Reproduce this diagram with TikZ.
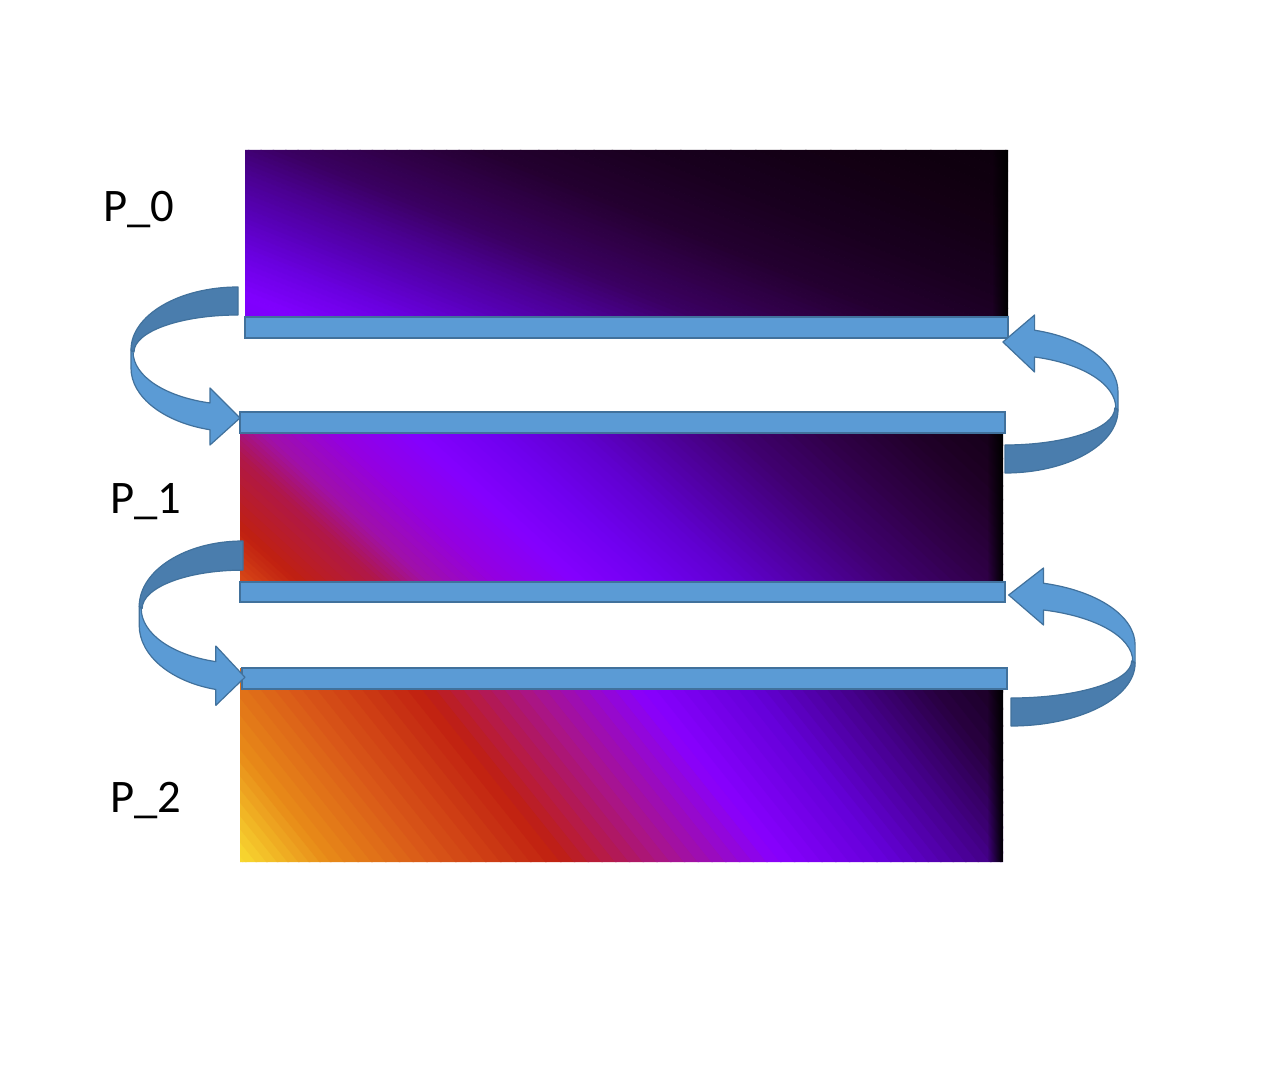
\documentclass[tikz,border=0pt]{standalone}
\usepackage{fontspec}
\setmainfont{Carlito}
\usetikzlibrary{fadings}
\definecolor{halofill}{HTML}{5B9BD5}
\definecolor{haloline}{HTML}{41719C}
\definecolor{haloback}{HTML}{4A7DAD}

% #1 left, #2 bottom, #3 right, #4 top, #5 slope of the iso-lines, #6 stops t0/t1/c0/c1
\newcommand{\heatpanel}[6]{%
  \begin{scope}
    \clip (#1,#4) rectangle (#3,#2);
    \foreach \ta/\tb/\ca/\cb in {#6}{
      \xdefinecolor{hlo}{HTML}{\ca}\xdefinecolor{hhi}{HTML}{\cb}
      \foreach \i in {0,...,7}{
        \pgfmathsetmacro{\tA}{\ta+(\tb-\ta)*\i/8}
        \pgfmathsetmacro{\tB}{\ta+(\tb-\ta)*(\i+1)/8+1.5}
        \pgfmathsetmacro{\skw}{#5*(#2-#4)}
        \pgfmathsetmacro{\pct}{(\i+0.5)*12.5}
        \fill[hhi!\pct!hlo] (\tA,#2) -- (\tB,#2) -- (\tB-\skw,#4) -- (\tA-\skw,#4) -- cycle;
      }
    }
    \fill[black, path fading=west] (#3-16,#4) rectangle (#3,#2);
  \end{scope}}

\begin{document}
\begin{tikzpicture}[x=0.75pt, y=-0.75pt,
  lbl/.style={font=\fontsize{35}{40}\selectfont, anchor=base west, inner sep=0pt},
  halo/.style={fill=halofill, draw=haloline, line width=0.9pt},
  backpart/.style={fill=haloback, draw=haloline, line width=0.9pt, line join=round},
  frontpart/.style={fill=halofill, draw=haloline, line width=0.9pt, line join=round},
  curlarrow/.pic={
    \path[backpart] (0,0) arc[start angle=270, end angle=180, x radius=107, y radius=63]
      -- (-104,65) arc[start angle=180, end angle=270, x radius=104, y radius=37] -- cycle;
    \path[frontpart] (-107,63) -- (-107,81)
      arc[start angle=180, end angle=105.2, x radius=107, y radius=64]
      -- (-28,158) -- (2,131) -- (-28,101) -- (-28,116)
      arc[start angle=105.5, end angle=180, x radius=105, y radius=53] -- cycle;
  }]
\useasboundingbox[fill=white] (0,0) rectangle (1287,1069);

% ---------------- heat maps ----------------
\heatpanel{245}{338}{1008}{150}{2.5}{240/350/7C00F4/8000FF, 350/458/8000FF/6A00E0,
  458/557/6A00E0/5800B8, 557/656/5800B8/4A0090, 656/755/4A0090/3A0060,
  755/854/3A0060/300048, 854/953/300048/240030, 953/1100/240030/1A0020,
  1100/1300/1A0020/120012, 1300/1500/120012/0C000C}
\heatpanel{240}{602}{1003}{412}{1.1}{220/265/D84818/D84818, 265/320/D84818/C02010,
  320/400/C02010/B01848, 400/450/B01848/A010A8, 450/520/A010A8/9400E0,
  520/600/9400E0/8400FF, 600/680/8400FF/7000F0, 680/760/7000F0/6000D0,
  760/840/6000D0/5000A0, 840/920/5000A0/400070, 920/1010/400070/300048,
  1010/1100/300048/200028, 1100/1220/200028/100010}
\heatpanel{240}{862}{1003}{668}{0.8}{220/245/F8D830/F8D830, 245/330/F8D830/E88A18,
  330/440/E88A18/D85418, 440/560/D85418/C02010, 560/670/C02010/A8148C,
  670/780/A8148C/8800FF, 780/890/8800FF/6400D8, 890/990/6400D8/440088,
  990/1070/440088/280040, 1070/1180/280040/100010}

% ---------------- halo rows ----------------
\draw[halo] (245,317) rectangle (1008,338);
\draw[halo] (240,412) rectangle (1005,433);
\draw[halo] (240,582) rectangle (1005,602);
\draw[halo] (242,668) rectangle (1007,689);

% ---------------- exchange arrows ----------------
\pic at (238,287) {curlarrow};
\pic[xscale=0.97, yscale=1.04] at (243,541) {curlarrow};
\pic[rotate=180, xscale=1.056] at (1005,473) {curlarrow};
\pic[rotate=180, xscale=1.16] at (1011,726) {curlarrow};

% ---------------- labels ----------------
\node[lbl] (p0) at (103,222) {P\_0};
\node[lbl] (p1) at (110,513) {P\_1};
\node[lbl] (p2) at (110,812) {P\_2};
\end{tikzpicture}
\end{document}
